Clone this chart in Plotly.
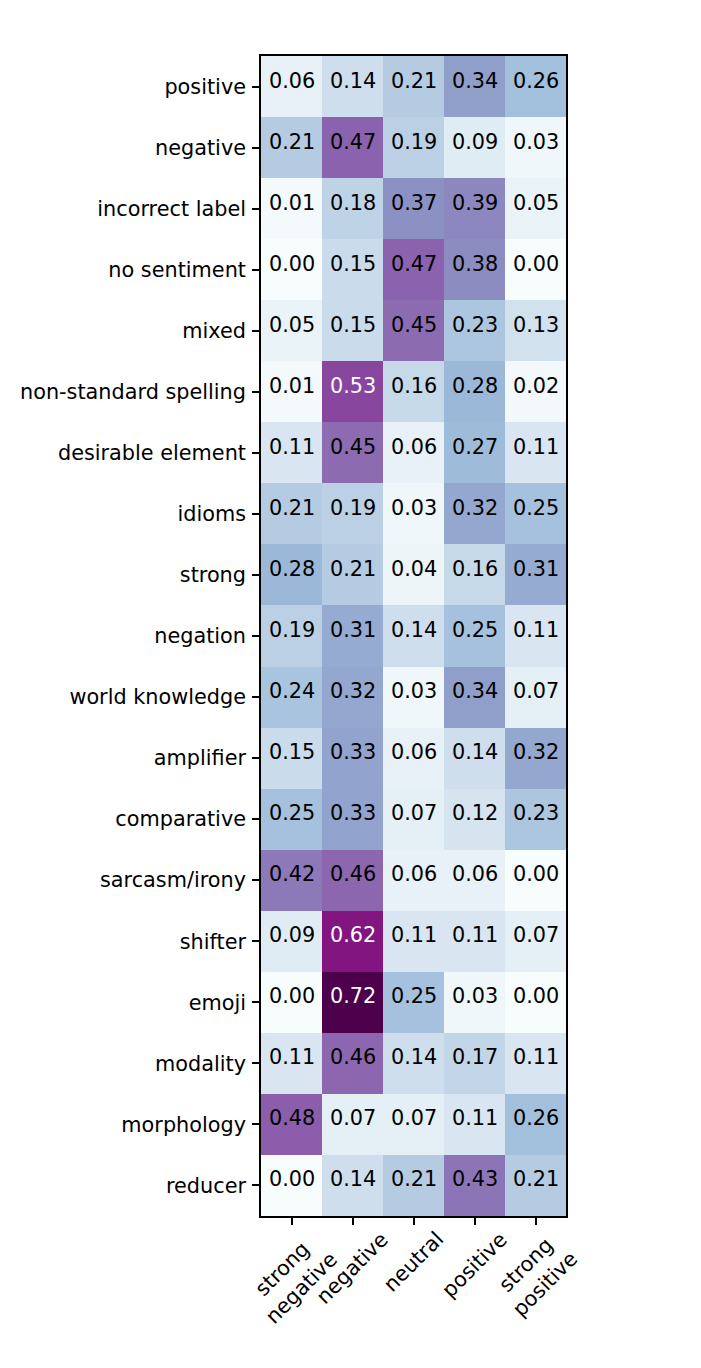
import plotly.graph_objects as go

rows = ["positive", "negative", "incorrect label", "no sentiment", "mixed",
        "non-standard spelling", "desirable element", "idioms", "strong",
        "negation", "world knowledge", "amplifier", "comparative",
        "sarcasm/irony", "shifter", "emoji", "modality", "morphology", "reducer"]
cols = ["strong<br>negative", "negative", "neutral", "positive", "strong<br>positive"]

strong_negative = [0.06, 0.21, 0.01, 0.00, 0.05, 0.01, 0.11, 0.21, 0.28, 0.19,
                   0.24, 0.15, 0.25, 0.42, 0.09, 0.00, 0.11, 0.48, 0.00]
negative = [0.14, 0.47, 0.18, 0.15, 0.15, 0.53, 0.45, 0.19, 0.21, 0.31,
            0.32, 0.33, 0.33, 0.46, 0.62, 0.72, 0.46, 0.07, 0.14]
neutral = [0.21, 0.19, 0.37, 0.47, 0.45, 0.16, 0.06, 0.03, 0.04, 0.14,
           0.03, 0.06, 0.07, 0.06, 0.11, 0.25, 0.14, 0.07, 0.21]
positive = [0.34, 0.09, 0.39, 0.38, 0.23, 0.28, 0.27, 0.32, 0.16, 0.25,
            0.34, 0.14, 0.12, 0.06, 0.11, 0.03, 0.17, 0.11, 0.43]
strong_positive = [0.26, 0.03, 0.05, 0.00, 0.13, 0.02, 0.11, 0.25, 0.31, 0.11,
                   0.07, 0.32, 0.23, 0.00, 0.07, 0.00, 0.11, 0.26, 0.21]

series = [strong_negative, negative, neutral, positive, strong_positive]
z = [[series[c][r] for c in range(len(cols))] for r in range(len(rows))]

bupu = ["rgb(247,252,253)", "rgb(224,236,244)", "rgb(191,211,230)", "rgb(158,188,218)",
        "rgb(140,150,198)", "rgb(140,107,177)", "rgb(136,65,157)", "rgb(129,15,124)",
        "rgb(77,0,75)"]
colorscale = [[i / 8, c] for i, c in enumerate(bupu)]

FONT = "DejaVu Sans"
FS = 20.8

fig = go.Figure(go.Heatmap(
    z=z, x=list(range(len(cols))), y=list(range(len(rows))),
    colorscale=colorscale, zmin=0, zmax=0.72, showscale=False,
    hoverinfo="skip", xgap=0, ygap=0,
))

annotations = []
for r in range(len(rows)):
    for c in range(len(cols)):
        v = z[r][c]
        annotations.append(dict(
            x=c, y=r, xref="x", yref="y", text=f"{v:.2f}", showarrow=False,
            font=dict(family=FONT, size=FS, color="white" if v > 0.5 else "black"),
            xanchor="center", yanchor="middle", yshift=6,
        ))
for c, lab in enumerate(cols):
    annotations.append(dict(
        x=c, y=0, xref="x", yref="paper", text=lab, showarrow=False,
        textangle=-45, xanchor="center", yanchor="top", yshift=-9,
        font=dict(family=FONT, size=FS, color="black"),
    ))

fig.update_layout(
    width=701, height=1368,
    margin=dict(l=261, r=135, t=56, b=152, pad=0),
    paper_bgcolor="white", plot_bgcolor="white",
    font=dict(family=FONT, size=FS, color="black"),
    annotations=annotations,
    xaxis=dict(range=[-0.5, 4.5], tickvals=list(range(len(cols))), ticktext=[""] * len(cols),
               showgrid=False, zeroline=False, ticks="outside", ticklen=7, tickwidth=1.67,
               tickcolor="black", showline=True, linecolor="black", linewidth=1.67, mirror=True),
    yaxis=dict(range=[len(rows) - 0.5, -0.5], tickvals=list(range(len(rows))), ticktext=rows,
               showgrid=False, zeroline=False, ticks="outside", ticklen=7, tickwidth=1.67,
               tickcolor="black", showline=True, linecolor="black", linewidth=1.67, mirror=True,
               ticklabelstandoff=2,
               tickfont=dict(family=FONT, size=FS, color="black")),
)

fig.write_html("out.html")
